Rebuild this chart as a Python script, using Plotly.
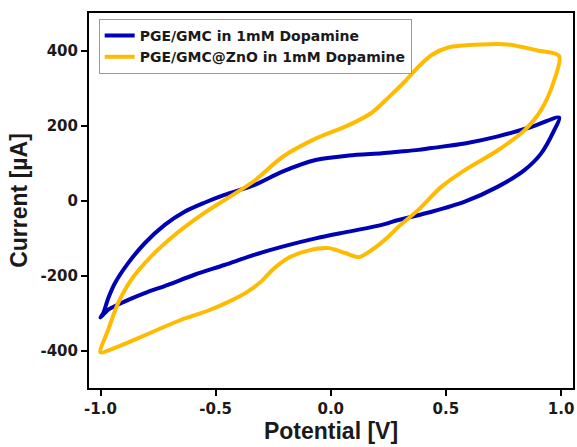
import plotly.graph_objects as go

# Cyclic voltammograms: potential [V] vs current [µA], forward branch then return branch
gmc_potential = [-1.0, -0.988, -0.966, -0.937, -0.88, -0.808, -0.721, -0.635, -0.549, -0.462, -0.333,
                 -0.21, -0.066, 0.078, 0.222, 0.294, 0.38, 0.438, 0.582, 0.726, 0.87, 0.992,
                 0.97, 0.913, 0.841, 0.726, 0.582, 0.438, 0.294, 0.222, 0.078, -0.066, -0.21,
                 -0.333, -0.462, -0.592, -0.707, -0.808, -0.894, -0.966, -1.0]
gmc_current = [-312, -300, -260, -220, -167, -114, -65, -30, -6, 15, 41,
               77, 108, 120, 126, 130, 135, 140, 152, 171, 196, 221,
               187, 125, 81, 37, -3, -30, -52, -65, -83, -101, -123,
               -145, -172, -198, -225, -247, -269, -291, -312]

zno_potential = [-1.0, -0.966, -0.923, -0.866, -0.78, -0.678, -0.563, -0.462, -0.333, -0.21, -0.066,
                 0.078, 0.178, 0.251, 0.323, 0.38, 0.438, 0.51, 0.654, 0.769, 0.898, 0.992,
                 0.97, 0.913, 0.841, 0.726, 0.582, 0.481, 0.38, 0.294, 0.251, 0.178, 0.121,
                 0.063, -0.009, -0.095, -0.181, -0.254, -0.297, -0.361, -0.433, -0.534, -0.649,
                 -0.75, -0.851, -0.937, -1.0]
zno_current = [-405, -344, -273, -211, -149, -92, -39, 1, 52, 116, 165,
               201, 234, 275, 318, 356, 388, 408, 416, 416, 400, 385,
               320, 241, 187, 134, 81, 37, -25, -70, -96, -132, -151,
               -140, -127, -133, -152, -185, -213, -243, -267, -294, -318,
               -344, -371, -393, -405]

series_names = ["PGE/GMC in 1mM Dopamine", "PGE/GMC@ZnO in 1mM Dopamine"]
series_colors = ["#0000B4", "#FFBB00"]

x_ticks = [-1.0, -0.5, 0.0, 0.5, 1.0]
x_ticktext = ["-1.0", "-0.5", "0.0", "0.5", "1.0"]
y_ticks = [-400, -200, 0, 200, 400]
y_ticktext = ["-400", "-200", "0", "200", "400"]

fig = go.Figure()
for name, xs, ys, color in zip(series_names,
                               [gmc_potential, zno_potential],
                               [gmc_current, zno_current],
                               series_colors):
    fig.add_trace(go.Scatter(x=xs, y=ys, mode="lines", name=name,
                             line=dict(color=color, width=4, shape="spline", smoothing=0.8)))

tick_font = dict(family="DejaVu Sans", size=15, color="#1a1a1a", weight="bold")
title_font = dict(family="Liberation Sans, Arial", size=23, color="#1a1a1a", weight="bold")

axis_common = dict(showline=True, linecolor="black", linewidth=2, mirror=True,
                   ticks="outside", ticklen=6, tickwidth=2, tickcolor="black",
                   showgrid=False, zeroline=False, tickfont=tick_font)

fig.update_layout(
    width=577, height=447,
    margin=dict(l=89, r=2, t=13, b=59),
    plot_bgcolor="white", paper_bgcolor="white",
    showlegend=True,
    legend=dict(x=0.02, y=0.984, xanchor="left", yanchor="top",
                bgcolor="white", bordercolor="#999", borderwidth=1,
                font=dict(family="DejaVu Sans", size=14, color="#1a1a1a", weight="bold"),
                tracegroupgap=0, itemwidth=30),
    xaxis=dict(range=[-1.05, 1.052], tickvals=x_ticks, ticktext=x_ticktext,
               title=dict(text="Potential [V]", standoff=2, font=title_font),
               **axis_common),
    yaxis=dict(range=[-500, 500], tickvals=y_ticks, ticktext=y_ticktext,
               title=dict(text="Current [µA]", standoff=6, font=title_font),
               **axis_common),
)

fig.write_html("out.html")
